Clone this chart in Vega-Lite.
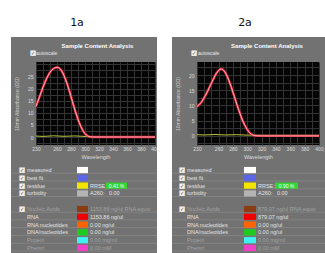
{
  "$schema": "https://vega.github.io/schema/vega-lite/v6.json",
  "padding": 0,
  "background": "#727272",
  "config": {
    "view": {"stroke": null},
    "font": "Liberation Sans",
    "axis": {"labelFont": "Liberation Sans", "titleFont": "Liberation Sans"}
  },
  "datasets": {
    "specL": [
      {"nm": 230, "od": 12.6}, {"nm": 232, "od": 14.2}, {"nm": 234, "od": 15.8}, {"nm": 236, "od": 17.4},
      {"nm": 238, "od": 19.0}, {"nm": 240, "od": 20.6}, {"nm": 243, "od": 22.8}, {"nm": 246, "od": 24.7},
      {"nm": 249, "od": 26.3}, {"nm": 252, "od": 27.5}, {"nm": 255, "od": 28.3}, {"nm": 258, "od": 28.7},
      {"nm": 260, "od": 28.8}, {"nm": 262, "od": 28.7}, {"nm": 264, "od": 28.3}, {"nm": 266, "od": 27.6},
      {"nm": 268, "od": 26.6}, {"nm": 270, "od": 25.4}, {"nm": 272, "od": 24.0}, {"nm": 274, "od": 22.4},
      {"nm": 276, "od": 20.6}, {"nm": 278, "od": 18.7}, {"nm": 280, "od": 16.7}, {"nm": 282, "od": 14.7},
      {"nm": 284, "od": 12.7}, {"nm": 286, "od": 10.8}, {"nm": 288, "od": 9.0}, {"nm": 290, "od": 7.3},
      {"nm": 292, "od": 5.8}, {"nm": 294, "od": 4.4}, {"nm": 296, "od": 3.2}, {"nm": 298, "od": 2.2},
      {"nm": 300, "od": 1.4}, {"nm": 302, "od": 0.8}, {"nm": 304, "od": 0.4}, {"nm": 306, "od": 0.15},
      {"nm": 310, "od": 0.03}, {"nm": 320, "od": 0}, {"nm": 340, "od": 0}, {"nm": 360, "od": 0},
      {"nm": 380, "od": 0}, {"nm": 400, "od": 0}
    ],
    "specR": [
      {"nm": 230, "od": 9.6}, {"nm": 233, "od": 10.3}, {"nm": 236, "od": 11.0}, {"nm": 239, "od": 12.2},
      {"nm": 242, "od": 13.4}, {"nm": 245, "od": 14.8}, {"nm": 248, "od": 16.3}, {"nm": 251, "od": 17.8},
      {"nm": 254, "od": 19.3}, {"nm": 257, "od": 20.6}, {"nm": 260, "od": 21.5}, {"nm": 262, "od": 21.9},
      {"nm": 264, "od": 22.0}, {"nm": 266, "od": 21.8}, {"nm": 268, "od": 21.3}, {"nm": 270, "od": 20.6},
      {"nm": 272, "od": 19.6}, {"nm": 274, "od": 18.5}, {"nm": 276, "od": 17.2}, {"nm": 278, "od": 15.9},
      {"nm": 280, "od": 14.4}, {"nm": 282, "od": 13.0}, {"nm": 284, "od": 11.5}, {"nm": 286, "od": 10.0},
      {"nm": 288, "od": 8.6}, {"nm": 290, "od": 7.3}, {"nm": 292, "od": 6.0}, {"nm": 294, "od": 4.8},
      {"nm": 296, "od": 3.8}, {"nm": 298, "od": 2.9}, {"nm": 300, "od": 2.1}, {"nm": 302, "od": 1.4},
      {"nm": 304, "od": 0.9}, {"nm": 306, "od": 0.5}, {"nm": 308, "od": 0.25}, {"nm": 312, "od": 0.05},
      {"nm": 320, "od": 0}, {"nm": 340, "od": 0}, {"nm": 360, "od": 0}, {"nm": 380, "od": 0}, {"nm": 400, "od": 0}
    ],
    "residL": [
      {"nm": 230, "od": 0.4}, {"nm": 240, "od": 0.25}, {"nm": 255, "od": 0.5}, {"nm": 270, "od": 0.3},
      {"nm": 285, "od": 0.45}, {"nm": 300, "od": 0.25}, {"nm": 320, "od": 0.2}, {"nm": 400, "od": 0.2}
    ],
    "residR": [
      {"nm": 230, "od": 0.4}, {"nm": 240, "od": 0.3}, {"nm": 255, "od": 0.45}, {"nm": 270, "od": 0.3},
      {"nm": 285, "od": 0.4}, {"nm": 300, "od": 0.25}, {"nm": 320, "od": 0.2}, {"nm": 400, "od": 0.2}
    ],
    "headL": [{"panel": "1a", "title": "Sample Content Analysis", "option": "autoscale"}],
    "headR": [{"panel": "2a", "title": "Sample Content Analysis", "option": "autoscale"}],
    "tableL": [
      {"panel": "1a", "row": "measured", "checkbox": true, "state": "active", "value": ""},
      {"panel": "1a", "row": "best fit", "checkbox": true, "state": "active", "value": ""},
      {"panel": "1a", "row": "residue", "checkbox": true, "state": "active", "value": "RRSE:", "badge": "0.41 %"},
      {"panel": "1a", "row": "turbidity", "checkbox": true, "state": "active", "value": "A260:\u00a0\u00a0\u00a00.00"},
      {"panel": "1a", "row": "Nucleic Acids", "checkbox": true, "state": "inactive", "value": "1153.86 ng/ul RNA equiv"},
      {"panel": "1a", "row": "RNA", "checkbox": false, "state": "active", "value": "1153.86 ng/ul"},
      {"panel": "1a", "row": "RNA nucleotides", "checkbox": false, "state": "active", "value": "0.00 ng/ul"},
      {"panel": "1a", "row": "DNA/nucleotides", "checkbox": false, "state": "active", "value": "0.00 ng/ul"},
      {"panel": "1a", "row": "Protein", "checkbox": false, "state": "inactive", "value": "0.00 mg/ml"},
      {"panel": "1a", "row": "Phenol", "checkbox": false, "state": "inactive", "value": "0.00 mM"}
    ],
    "tableR": [
      {"panel": "2a", "row": "measured", "checkbox": true, "state": "active", "value": ""},
      {"panel": "2a", "row": "best fit", "checkbox": true, "state": "active", "value": ""},
      {"panel": "2a", "row": "residue", "checkbox": true, "state": "active", "value": "RRSE:", "badge": "0.90 %"},
      {"panel": "2a", "row": "turbidity", "checkbox": true, "state": "active", "value": "A260:\u00a0\u00a0\u00a00.00"},
      {"panel": "2a", "row": "Nucleic Acids", "checkbox": true, "state": "inactive", "value": "879.07 ng/ul RNA equiv"},
      {"panel": "2a", "row": "RNA", "checkbox": false, "state": "active", "value": "879.07 ng/ul"},
      {"panel": "2a", "row": "RNA nucleotides", "checkbox": false, "state": "active", "value": "0.00 ng/ul"},
      {"panel": "2a", "row": "DNA/nucleotides", "checkbox": false, "state": "active", "value": "0.00 ng/ul"},
      {"panel": "2a", "row": "Protein", "checkbox": false, "state": "inactive", "value": "0.00 mg/ml"},
      {"panel": "2a", "row": "Phenol", "checkbox": false, "state": "inactive", "value": "0.00 mM"}
    ]
  },
  "spacing": 0,
  "vconcat": [
    {"spacing": 0, "bounds": "flush", "hconcat": [
      {"width": 11, "height": 37, "view": {"fill": "#ffffff"}, "data": {"values": []}, "mark": "text"},
      {"width": 146, "height": 37, "view": {"fill": "#ffffff"}, "data": {"values": [{"panel": "1a"}]},
       "mark": {"type": "text", "font": "DejaVu Sans", "fontSize": 11, "color": "#111111", "dx": -7, "dy": 4},
       "encoding": {"text": {"field": "panel"}}},
      {"width": 15, "height": 37, "view": {"fill": "#ffffff"}, "data": {"values": []}, "mark": "text"},
      {"width": 153, "height": 37, "view": {"fill": "#ffffff"}, "data": {"values": [{"panel": "2a"}]},
       "mark": {"type": "text", "font": "DejaVu Sans", "fontSize": 11, "color": "#111111", "dx": -3.5, "dy": 4},
       "encoding": {"text": {"field": "panel"}}}
    ]},
    {"spacing": 0, "bounds": "flush", "hconcat": [
      {"width": 11, "height": 25, "view": {"fill": "#ffffff"}, "data": {"values": []}, "mark": "text"},
      {"width": 25, "height": 25, "data": {"values": []}, "mark": "text"},
      {"width": 119, "height": 25, "data": {"name": "headL"},
       "layer": [
         {"mark": {"type": "text", "fontSize": 6, "fontWeight": "bold", "color": "#ffffff", "dx": 2, "dy": -3.5}, "encoding": {"text": {"field": "title"}}},
         {"mark": {"type": "text", "text": "■", "font": "DejaVu Sans", "fontSize": 7, "color": "#f0f0f0", "dx": -3, "dy": 3.5},
          "encoding": {"x": {"field": "panel", "type": "nominal", "axis": null, "scale": {"type": "band", "paddingInner": 0, "paddingOuter": 0}, "bandPosition": 0}}},
         {"mark": {"type": "text", "text": "✓", "font": "DejaVu Sans", "fontSize": 5, "color": "#4a4a4a", "dx": -3, "dy": 3.5},
          "encoding": {"x": {"field": "panel", "type": "nominal", "axis": null, "scale": {"type": "band", "paddingInner": 0, "paddingOuter": 0}, "bandPosition": 0}}},
         {"mark": {"type": "text", "align": "left", "fontSize": 5, "color": "#e8e8e8", "dx": 0, "dy": 3.5},
          "encoding": {"x": {"field": "panel", "type": "nominal", "axis": null, "scale": {"type": "band", "paddingInner": 0, "paddingOuter": 0}, "bandPosition": 0}, "text": {"field": "option"}}}
       ]},
      {"width": 2, "height": 25, "data": {"values": []}, "mark": "text"},
      {"width": 15, "height": 25, "view": {"fill": "#ffffff"}, "data": {"values": []}, "mark": "text"},
      {"width": 25, "height": 25, "data": {"values": []}, "mark": "text"},
      {"width": 122, "height": 25, "data": {"name": "headR"},
       "layer": [
         {"mark": {"type": "text", "fontSize": 6, "fontWeight": "bold", "color": "#ffffff", "dx": 9, "dy": -3.5}, "encoding": {"text": {"field": "title"}}},
         {"mark": {"type": "text", "text": "■", "font": "DejaVu Sans", "fontSize": 7, "color": "#f0f0f0", "dx": -3, "dy": 3.5},
          "encoding": {"x": {"field": "panel", "type": "nominal", "axis": null, "scale": {"type": "band", "paddingInner": 0, "paddingOuter": 0}, "bandPosition": 0}}},
         {"mark": {"type": "text", "text": "✓", "font": "DejaVu Sans", "fontSize": 5, "color": "#4a4a4a", "dx": -3, "dy": 3.5},
          "encoding": {"x": {"field": "panel", "type": "nominal", "axis": null, "scale": {"type": "band", "paddingInner": 0, "paddingOuter": 0}, "bandPosition": 0}}},
         {"mark": {"type": "text", "align": "left", "fontSize": 5, "color": "#e8e8e8", "dx": 1, "dy": 3.5},
          "encoding": {"x": {"field": "panel", "type": "nominal", "axis": null, "scale": {"type": "band", "paddingInner": 0, "paddingOuter": 0}, "bandPosition": 0}, "text": {"field": "option"}}}
       ]}
    ]},
    {"spacing": 0, "bounds": "flush", "hconcat": [
      {"width": 11, "height": 103, "view": {"fill": "#ffffff"}, "data": {"values": []}, "mark": "text"},
      {"width": 25, "height": 103, "data": {"values": []}, "mark": "text"},
      {
        "width": 119, "height": 83,
        "view": {"fill": "#050505"},
        "encoding": {
          "x": {"field": "nm", "type": "quantitative", "scale": {"domain": [230, 400], "nice": false, "zero": false},
            "axis": {"title": "Wavelength", "values": [230, 240, 250, 260, 270, 280, 290, 300, 310, 320, 330, 340, 350, 360, 370, 380, 390, 400],
              "labelExpr": "(datum.value == 230 || (datum.value >= 260 && datum.value % 20 == 0)) ? datum.label : ''",
              "format": "d", "labelFontSize": 5, "labelColor": "#dedede", "labelPadding": 1, "labelFlush": false, "labelOverlap": false,
              "ticks": false, "domain": false, "grid": true, "gridColor": "#333333", "gridWidth": 1,
              "titleFontSize": 5.5, "titleColor": "#dcdcdc", "titleFontWeight": "normal", "titlePadding": 3}},
          "y": {"field": "od", "type": "quantitative", "scale": {"domain": [-3.3, 31], "nice": false, "zero": false},
            "axis": {"title": "10mm Absorbance (OD)", "values": [-2.5, 0, 2.5, 5, 7.5, 10, 12.5, 15, 17.5, 20, 22.5, 25, 27.5, 30],
              "labelExpr": "datum.value >= 0 && datum.value <= 25 && datum.value % 5 == 0 ? datum.label : ''",
              "format": "d", "labelFontSize": 5, "labelColor": "#dedede", "labelPadding": 3, "labelOverlap": false,
              "ticks": false, "domain": false, "grid": true, "gridColor": "#333333", "gridWidth": 1,
              "titleFontSize": 5, "titleColor": "#cfcfcf", "titleFontWeight": "normal", "titlePadding": 8}}
        },
        "layer": [
          {"data": {"name": "residL"}, "mark": {"type": "line", "color": "#b9c640", "strokeWidth": 1}},
          {"data": {"name": "specL"}, "mark": {"type": "line", "color": "#e3263a", "strokeWidth": 2.4}},
          {"data": {"name": "specL"}, "mark": {"type": "line", "color": "#ffd0d6", "strokeWidth": 0.8}}
        ]
      },
      {"width": 2, "height": 103, "data": {"values": []}, "mark": "text"},
      {"width": 15, "height": 103, "view": {"fill": "#ffffff"}, "data": {"values": []}, "mark": "text"},
      {"width": 25, "height": 103, "data": {"values": []}, "mark": "text"},
      {
        "width": 122, "height": 83,
        "view": {"fill": "#050505"},
        "encoding": {
          "x": {"field": "nm", "type": "quantitative", "scale": {"domain": [230, 400], "nice": false, "zero": false},
            "axis": {"title": "Wavelength", "values": [230, 240, 250, 260, 270, 280, 290, 300, 310, 320, 330, 340, 350, 360, 370, 380, 390, 400],
              "labelExpr": "(datum.value == 230 || (datum.value >= 260 && datum.value % 20 == 0)) ? datum.label : ''",
              "format": "d", "labelFontSize": 5, "labelColor": "#dedede", "labelPadding": 1, "labelFlush": false, "labelOverlap": false,
              "ticks": false, "domain": false, "grid": true, "gridColor": "#333333", "gridWidth": 1,
              "titleFontSize": 5.5, "titleColor": "#dcdcdc", "titleFontWeight": "normal", "titlePadding": 3}},
          "y": {"field": "od", "type": "quantitative", "scale": {"domain": [-3, 24.3], "nice": false, "zero": false},
            "axis": {"title": "10mm Absorbance (OD)", "values": [-2.5, 0, 2.5, 5, 7.5, 10, 12.5, 15, 17.5, 20, 22.5],
              "labelExpr": "datum.value >= 0 && datum.value % 5 == 0 ? datum.label : ''",
              "format": "d", "labelFontSize": 5, "labelColor": "#dedede", "labelPadding": 3, "labelOverlap": false,
              "ticks": false, "domain": false, "grid": true, "gridColor": "#333333", "gridWidth": 1,
              "titleFontSize": 5, "titleColor": "#cfcfcf", "titleFontWeight": "normal", "titlePadding": 8}}
        },
        "layer": [
          {"data": {"name": "residR"}, "mark": {"type": "line", "color": "#b9c640", "strokeWidth": 1}},
          {"data": {"name": "specR"}, "mark": {"type": "line", "color": "#e3263a", "strokeWidth": 2.4}},
          {"data": {"name": "specR"}, "mark": {"type": "line", "color": "#ffd0d6", "strokeWidth": 0.8}}
        ]
      }
    ]},
    {"spacing": 0, "bounds": "flush", "hconcat": [
      {"width": 11, "height": 88, "view": {"fill": "#ffffff"}, "data": {"values": []}, "mark": "text"},
      {"width": 66, "height": 88, "data": {"name": "tableL"},
       "encoding": {"y": {"field": "row", "type": "nominal", "axis": null, "scale": {"type": "band", "domain": ["measured", "best fit", "residue", "turbidity", " ", "Nucleic Acids", "RNA", "RNA nucleotides", "DNA/nucleotides", "Protein", "Phenol"], "paddingInner": 0.2, "paddingOuter": 0.25}}},
       "layer": [
         {"mark": {"type": "rule", "color": "#8e8e8e", "strokeWidth": 0.6}, "encoding": {"y": {"field": "row", "type": "nominal", "bandPosition": 1}}},
         {"transform": [{"filter": "datum.checkbox"}], "mark": {"type": "text", "text": "■", "font": "DejaVu Sans", "fontSize": 7, "color": "#f0f0f0", "dx": 11},
          "encoding": {"x": {"field": "panel", "type": "nominal", "axis": null, "scale": {"type": "band", "paddingInner": 0, "paddingOuter": 0}, "bandPosition": 0}}},
         {"transform": [{"filter": "datum.checkbox"}], "mark": {"type": "text", "text": "✓", "font": "DejaVu Sans", "fontSize": 5, "color": "#4a4a4a", "dx": 11},
          "encoding": {"x": {"field": "panel", "type": "nominal", "axis": null, "scale": {"type": "band", "paddingInner": 0, "paddingOuter": 0}, "bandPosition": 0}}},
         {"mark": {"type": "text", "align": "left", "fontSize": 5.5, "dx": 16},
          "encoding": {"x": {"field": "panel", "type": "nominal", "axis": null, "scale": {"type": "band", "paddingInner": 0, "paddingOuter": 0}, "bandPosition": 0},
            "text": {"field": "row"},
            "color": {"field": "state", "type": "nominal", "scale": {"domain": ["active", "inactive"], "range": ["#e6e6e6", "#a4a4a4"]}, "legend": null}}}
       ]},
      {"width": 11, "height": 88, "data": {"name": "tableL"},
       "encoding": {"y": {"field": "row", "type": "nominal", "axis": null, "scale": {"type": "band", "domain": ["measured", "best fit", "residue", "turbidity", " ", "Nucleic Acids", "RNA", "RNA nucleotides", "DNA/nucleotides", "Protein", "Phenol"], "paddingInner": 0.2, "paddingOuter": 0.25}}},
       "layer": [
         {"mark": {"type": "rule", "color": "#8e8e8e", "strokeWidth": 0.6}, "encoding": {"y": {"field": "row", "type": "nominal", "bandPosition": 1}}},
         {"mark": {"type": "rect"},
          "encoding": {"x": {"field": "panel", "type": "nominal", "axis": null, "scale": {"type": "band", "paddingInner": 0, "paddingOuter": 0}},
            "fill": {"field": "row", "type": "nominal", "legend": null, "scale": {"domain": ["measured", "best fit", "residue", "turbidity", "Nucleic Acids", "RNA", "RNA nucleotides", "DNA/nucleotides", "Protein", "Phenol"], "range": ["#ffffff", "#5a66e6", "#f2e600", "#b4b4b4", "#8a3c12", "#f00000", "#ff6400", "#1ecb1e", "#3ff0f0", "#f040c8"]}}}}
       ]},
      {"width": 18, "height": 88, "data": {"name": "tableL"},
       "encoding": {"y": {"field": "row", "type": "nominal", "axis": null, "scale": {"type": "band", "domain": ["measured", "best fit", "residue", "turbidity", " ", "Nucleic Acids", "RNA", "RNA nucleotides", "DNA/nucleotides", "Protein", "Phenol"], "paddingInner": 0.2, "paddingOuter": 0.25}}},
       "layer": [
         {"mark": {"type": "rule", "color": "#8e8e8e", "strokeWidth": 0.6}, "encoding": {"y": {"field": "row", "type": "nominal", "bandPosition": 1}}},
         {"mark": {"type": "text", "align": "left", "fontSize": 5.5, "dx": 2},
          "encoding": {"x": {"field": "panel", "type": "nominal", "axis": null, "scale": {"type": "band", "paddingInner": 0, "paddingOuter": 0}, "bandPosition": 0},
            "text": {"field": "value"},
            "color": {"field": "state", "type": "nominal", "scale": {"domain": ["active", "inactive"], "range": ["#e6e6e6", "#a4a4a4"]}, "legend": null}}}
       ]},
      {"width": 21, "height": 88, "data": {"name": "tableL"},
       "encoding": {"y": {"field": "row", "type": "nominal", "axis": null, "scale": {"type": "band", "domain": ["measured", "best fit", "residue", "turbidity", " ", "Nucleic Acids", "RNA", "RNA nucleotides", "DNA/nucleotides", "Protein", "Phenol"], "paddingInner": 0.2, "paddingOuter": 0.25}}},
       "layer": [
         {"mark": {"type": "rule", "color": "#8e8e8e", "strokeWidth": 0.6}, "encoding": {"y": {"field": "row", "type": "nominal", "bandPosition": 1}}},
         {"transform": [{"filter": "isValid(datum.badge)"}], "mark": {"type": "rect", "color": "#34d634"},
          "encoding": {"x": {"field": "panel", "type": "nominal", "axis": null, "scale": {"type": "band", "paddingInner": 0, "paddingOuter": 0}}}},
         {"transform": [{"filter": "isValid(datum.badge)"}], "mark": {"type": "text", "fontSize": 5, "color": "#f4fff4"},
          "encoding": {"text": {"field": "badge"}}}
       ]},
      {"width": 30, "height": 88, "data": {"name": "tableL"},
       "mark": {"type": "rule", "color": "#8e8e8e", "strokeWidth": 0.6},
       "encoding": {"y": {"field": "row", "type": "nominal", "axis": null, "bandPosition": 1, "scale": {"type": "band", "domain": ["measured", "best fit", "residue", "turbidity", " ", "Nucleic Acids", "RNA", "RNA nucleotides", "DNA/nucleotides", "Protein", "Phenol"], "paddingInner": 0.2, "paddingOuter": 0.25}}}},
      {"width": 15, "height": 88, "view": {"fill": "#ffffff"}, "data": {"values": []}, "mark": "text"},
      {"width": 72, "height": 88, "data": {"name": "tableR"},
       "encoding": {"y": {"field": "row", "type": "nominal", "axis": null, "scale": {"type": "band", "domain": ["measured", "best fit", "residue", "turbidity", " ", "Nucleic Acids", "RNA", "RNA nucleotides", "DNA/nucleotides", "Protein", "Phenol"], "paddingInner": 0.2, "paddingOuter": 0.25}}},
       "layer": [
         {"mark": {"type": "rule", "color": "#8e8e8e", "strokeWidth": 0.6}, "encoding": {"y": {"field": "row", "type": "nominal", "bandPosition": 1}}},
         {"transform": [{"filter": "datum.checkbox"}], "mark": {"type": "text", "text": "■", "font": "DejaVu Sans", "fontSize": 7, "color": "#f0f0f0", "dx": 10},
          "encoding": {"x": {"field": "panel", "type": "nominal", "axis": null, "scale": {"type": "band", "paddingInner": 0, "paddingOuter": 0}, "bandPosition": 0}}},
         {"transform": [{"filter": "datum.checkbox"}], "mark": {"type": "text", "text": "✓", "font": "DejaVu Sans", "fontSize": 5, "color": "#4a4a4a", "dx": 10},
          "encoding": {"x": {"field": "panel", "type": "nominal", "axis": null, "scale": {"type": "band", "paddingInner": 0, "paddingOuter": 0}, "bandPosition": 0}}},
         {"mark": {"type": "text", "align": "left", "fontSize": 5.5, "dx": 15},
          "encoding": {"x": {"field": "panel", "type": "nominal", "axis": null, "scale": {"type": "band", "paddingInner": 0, "paddingOuter": 0}, "bandPosition": 0},
            "text": {"field": "row"},
            "color": {"field": "state", "type": "nominal", "scale": {"domain": ["active", "inactive"], "range": ["#e6e6e6", "#a4a4a4"]}, "legend": null}}}
       ]},
      {"width": 12, "height": 88, "data": {"name": "tableR"},
       "encoding": {"y": {"field": "row", "type": "nominal", "axis": null, "scale": {"type": "band", "domain": ["measured", "best fit", "residue", "turbidity", " ", "Nucleic Acids", "RNA", "RNA nucleotides", "DNA/nucleotides", "Protein", "Phenol"], "paddingInner": 0.2, "paddingOuter": 0.25}}},
       "layer": [
         {"mark": {"type": "rule", "color": "#8e8e8e", "strokeWidth": 0.6}, "encoding": {"y": {"field": "row", "type": "nominal", "bandPosition": 1}}},
         {"mark": {"type": "rect"},
          "encoding": {"x": {"field": "panel", "type": "nominal", "axis": null, "scale": {"type": "band", "paddingInner": 0, "paddingOuter": 0}},
            "fill": {"field": "row", "type": "nominal", "legend": null, "scale": {"domain": ["measured", "best fit", "residue", "turbidity", "Nucleic Acids", "RNA", "RNA nucleotides", "DNA/nucleotides", "Protein", "Phenol"], "range": ["#ffffff", "#5a66e6", "#f2e600", "#b4b4b4", "#8a3c12", "#f00000", "#ff6400", "#1ecb1e", "#3ff0f0", "#f040c8"]}}}}
       ]},
      {"width": 19, "height": 88, "data": {"name": "tableR"},
       "encoding": {"y": {"field": "row", "type": "nominal", "axis": null, "scale": {"type": "band", "domain": ["measured", "best fit", "residue", "turbidity", " ", "Nucleic Acids", "RNA", "RNA nucleotides", "DNA/nucleotides", "Protein", "Phenol"], "paddingInner": 0.2, "paddingOuter": 0.25}}},
       "layer": [
         {"mark": {"type": "rule", "color": "#8e8e8e", "strokeWidth": 0.6}, "encoding": {"y": {"field": "row", "type": "nominal", "bandPosition": 1}}},
         {"mark": {"type": "text", "align": "left", "fontSize": 5.5, "dx": 2},
          "encoding": {"x": {"field": "panel", "type": "nominal", "axis": null, "scale": {"type": "band", "paddingInner": 0, "paddingOuter": 0}, "bandPosition": 0},
            "text": {"field": "value"},
            "color": {"field": "state", "type": "nominal", "scale": {"domain": ["active", "inactive"], "range": ["#e6e6e6", "#a4a4a4"]}, "legend": null}}}
       ]},
      {"width": 23, "height": 88, "data": {"name": "tableR"},
       "encoding": {"y": {"field": "row", "type": "nominal", "axis": null, "scale": {"type": "band", "domain": ["measured", "best fit", "residue", "turbidity", " ", "Nucleic Acids", "RNA", "RNA nucleotides", "DNA/nucleotides", "Protein", "Phenol"], "paddingInner": 0.2, "paddingOuter": 0.25}}},
       "layer": [
         {"mark": {"type": "rule", "color": "#8e8e8e", "strokeWidth": 0.6}, "encoding": {"y": {"field": "row", "type": "nominal", "bandPosition": 1}}},
         {"transform": [{"filter": "isValid(datum.badge)"}], "mark": {"type": "rect", "color": "#34d634"},
          "encoding": {"x": {"field": "panel", "type": "nominal", "axis": null, "scale": {"type": "band", "paddingInner": 0, "paddingOuter": 0}}}},
         {"transform": [{"filter": "isValid(datum.badge)"}], "mark": {"type": "text", "fontSize": 5, "color": "#f4fff4"},
          "encoding": {"text": {"field": "badge"}}}
       ]},
      {"width": 27, "height": 88, "data": {"name": "tableR"},
       "mark": {"type": "rule", "color": "#8e8e8e", "strokeWidth": 0.6},
       "encoding": {"y": {"field": "row", "type": "nominal", "axis": null, "bandPosition": 1, "scale": {"type": "band", "domain": ["measured", "best fit", "residue", "turbidity", " ", "Nucleic Acids", "RNA", "RNA nucleotides", "DNA/nucleotides", "Protein", "Phenol"], "paddingInner": 0.2, "paddingOuter": 0.25}}}}
    ]}
  ]
}
